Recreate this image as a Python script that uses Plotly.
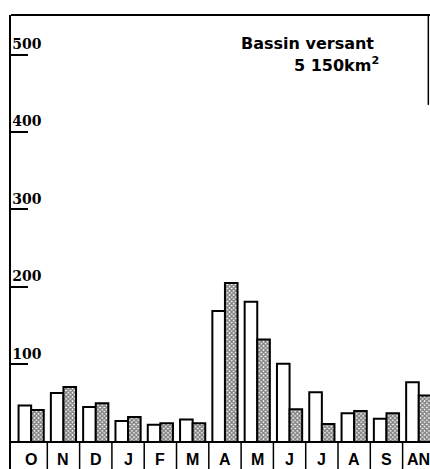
import plotly.graph_objects as go

months = ["O", "N", "D", "J", "F", "M", "A", "M", "J", "J", "A", "S", "AN"]
series_plain = [47, 63, 45, 27, 22, 29, 169, 181, 101, 64, 37, 30, 77]
series_dotted = [41, 71, 50, 32, 24, 24, 205, 132, 42, 23, 40, 37, 60]
y_ticks = [100, 200, 300, 400, 500]
title_lines = ["Bassin versant", "5 150km<sup>2</sup>"]

xpos = list(range(len(months)))

fig = go.Figure()
fig.add_trace(go.Bar(
    x=xpos, y=series_plain, name="a",
    marker=dict(color="white", line=dict(color="black", width=2)),
))
fig.add_trace(go.Bar(
    x=xpos, y=series_dotted, name="b",
    marker=dict(color="white", line=dict(color="black", width=2),
                pattern=dict(shape="x", fgcolor="#000", bgcolor="white",
                             size=3, solidity=0.7, fillmode="overlay")),
))

Y0, Y1 = -35, 551
shapes = []
for i in range(len(months) - 1):
    shapes.append(dict(type="line", xref="x", yref="y", x0=i + 0.5, x1=i + 0.5,
                       y0=Y0, y1=0, line=dict(color="black", width=1.5)))
shapes.append(dict(type="line", xref="paper", yref="y", x0=0, x1=1, y0=0, y1=0,
                   line=dict(color="black", width=2)))
shapes.append(dict(type="line", xref="paper", yref="paper", x0=0, x1=1, y0=1, y1=1,
                   line=dict(color="black", width=2)))
shapes.append(dict(type="line", xref="paper", yref="y", x0=0.996, x1=0.996, y0=Y1, y1=435,
                   line=dict(color="black", width=1.5)))

annotations = []
for i, m in enumerate(months):
    annotations.append(dict(x=i, y=-23, xref="x", yref="y", text="<b>" + m + "</b>", showarrow=False,
                            font=dict(family="Liberation Sans", size=16, color="black"),
                            xanchor="center", yanchor="middle"))
annotations.append(dict(x=0.870, y=514, xref="paper", yref="y", text="<b>" + title_lines[0] + "</b>",
                        showarrow=False, xanchor="right", yanchor="middle",
                        font=dict(family="DejaVu Sans", size=16, color="black")))
annotations.append(dict(x=0.882, y=487, xref="paper", yref="y", text="<b>" + title_lines[1] + "</b>",
                        showarrow=False, xanchor="right", yanchor="middle",
                        font=dict(family="DejaVu Sans", size=16, color="black")))

fig.update_layout(
    width=430, height=469,
    margin=dict(l=11, r=0, t=15, b=0),
    paper_bgcolor="white", plot_bgcolor="white",
    showlegend=False,
    barmode="group", bargap=0.22, bargroupgap=0.0,
    shapes=shapes, annotations=annotations,
    xaxis=dict(range=[-0.624, 12.348], showticklabels=False, ticks="",
               showgrid=False, zeroline=False, showline=False),
    yaxis=dict(range=[Y0, Y1], tickvals=y_ticks, ticktext=["<b>%d</b>" % v for v in y_ticks],
               ticks="inside", ticklen=17, tickwidth=1.5, tickcolor="black",
               ticklabelposition="inside top",
               tickfont=dict(family="DejaVu Serif", size=14, color="black"),
               showgrid=False, zeroline=False,
               showline=True, linecolor="black", linewidth=2),
)

fig.write_html("out.html", config={"displayModeBar": False})

with open("out.html", "r", encoding="utf-8") as f:
    html = f.read()
html = html.replace("<head>", "<head><style>html,body{margin:0;padding:0;overflow:hidden;}</style>", 1)
with open("out.html", "w", encoding="utf-8") as f:
    f.write(html)
